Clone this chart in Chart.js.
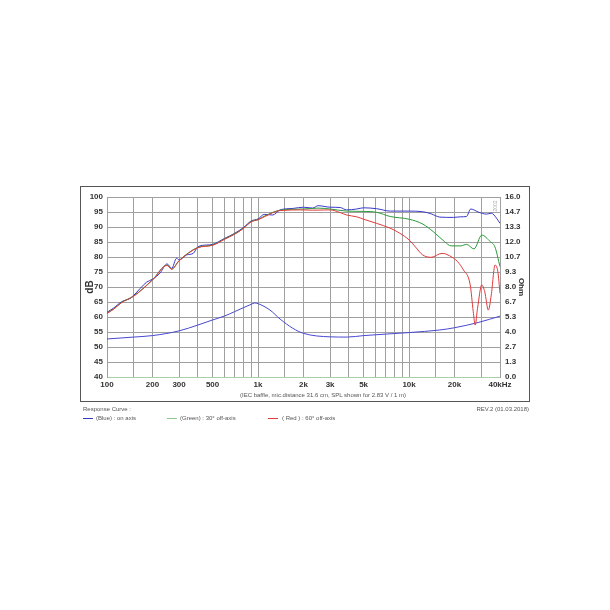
<!DOCTYPE html>
<html>
<head>
<meta charset="utf-8">
<script src="https://cdn.jsdelivr.net/npm/chart.js@4/dist/chart.umd.min.js"></script>
<style>
  body { margin: 0; background: #fff; font-family: "Liberation Sans", Arial, sans-serif; }
  #wrap { position: relative; width: 610px; height: 610px; }
  canvas { position: absolute; left: 0; top: 0; }
  .frame { position: absolute; left: 80px; top: 186px; width: 448px; height: 214px; border: 1px solid #555; }
  .txt { position: absolute; font-size: 6px; color: #555; white-space: nowrap; }
  .ln { position: absolute; height: 1px; width: 10px; }
</style>
</head>
<body>
<div id="wrap">
  <div class="frame"></div>
  <canvas id="fr" width="610" height="610"></canvas>
  <div class="txt" style="left:240px;top:392px;">(IEC baffle, mic.distance 31.6 cm, SPL shown for 2.83 V / 1 m)</div>
  <div class="txt" style="left:83px;top:406px;">Response Curve :</div>
  <div class="txt" style="right:81px;top:406px;">REV.2 (01.03.2018)</div>
  <div class="ln" style="left:83px;top:418px;background:#3838c8;"></div>
  <div class="txt" style="left:96px;top:415px;">(Blue) : on axis</div>
  <div class="ln" style="left:167px;top:418px;background:#8fc98f;"></div>
  <div class="txt" style="left:180px;top:415px;">(Green) : 30° off-axis</div>
  <div class="ln" style="left:268px;top:418px;background:#e03a3a;"></div>
  <div class="txt" style="left:282px;top:415px;">( Red ) : 60° off-axis</div>
</div>
<script>
// frequency grid and labels
const gridFreqs = [100,150,200,300,400,500,600,700,800,900,1000,1500,2000,3000,4000,5000,6000,7000,8000,9000,10000,15000,20000,30000,40000]
const freqLabels = {100:'100',200:'200',300:'300',500:'500',1000:'1k',2000:'2k',3000:'3k',5000:'5k',10000:'10k',20000:'20k',40000:'40kHz'}

// on axis (blue), dB
const blueFreq = [100,110,125,142,150,183,200,224,250,268,289,300,337,372,400,457,500,600,700,800,900,1000,1100,1250,1400,1710,2000,2300,2500,3000,3500,3860,4500,5000,6100,7500,10000,12300,14000,16000,19700,22000,24000,25600,29000,32600,35000,38000,40000]
const blueSpl  = [61.6,62.9,65.1,66.2,67.2,71.6,72.6,74.6,77.7,76.2,79.6,79.0,80.7,81.2,83.4,84.0,84.2,86.2,87.9,89.8,92.0,92.7,94.2,94.0,95.7,96.2,96.6,96.3,97.1,96.6,96.5,95.7,96.0,96.4,96.1,95.3,95.3,95.1,94.4,93.3,93.2,93.4,93.5,96.0,94.9,94.3,94.6,92.9,91.2]

// 30 deg off axis (green), dB
const greenFreq = [100,110,125,150,200,250,268,300,400,500,600,700,800,900,1000,1100,1400,2000,2500,3000,3860,5000,6100,7500,10000,12300,14500,17200,19000,22000,24000,26900,30300,34500,37000,40000]
const greenSpl  = [61.3,62.6,64.9,67.0,72.4,77.3,76.0,78.8,83.2,84.0,86.0,87.7,89.6,91.8,92.5,93.6,95.6,96.0,96.3,96.0,95.3,95.2,94.9,93.5,92.6,91.0,88.4,85.1,83.7,83.7,84.2,82.7,87.3,85.1,83.4,76.8]

// 60 deg off axis (red), dB
const redFreq = [100,110,125,150,200,250,268,300,400,500,600,700,800,900,1000,1100,1400,2000,2300,3000,3500,3860,4500,5000,6100,7500,8700,10000,11000,12300,14000,16500,17500,19700,21000,22900,25400,26600,27400,28400,30300,31700,33500,35000,37100,38700,40000]
const redSpl  = [61.2,62.5,64.8,66.9,72.3,77.2,75.9,78.7,83.1,83.9,85.9,87.6,89.5,91.7,92.4,93.4,95.5,95.7,95.6,95.7,94.8,94.0,93.4,92.6,91.2,89.6,87.9,85.7,83.4,80.7,79.9,81.2,81.0,79.6,78.4,75.7,70.7,61.8,57.3,62.9,70.7,68.4,62.3,67.3,77.3,75.1,67.9]

// impedance, Ohm
const impFreq = [100,150,200,300,400,500,600,700,800,900,950,1000,1200,1400,1700,2000,3000,3900,5000,10000,16000,20000,29000,40000]
const impOhm  = [3.38,3.55,3.68,4.10,4.62,5.07,5.42,5.81,6.16,6.46,6.58,6.52,5.95,5.15,4.33,3.88,3.57,3.55,3.68,3.95,4.18,4.38,4.86,5.41]

const ohmTicks = [0,1,2,3,4,5,6,7,8,9,10,11,12].map(i => i * 16 / 12)

function pts(fs, vs) {
    return fs.map((f, i) => ({x: f, y: vs[i]}))
}

const sideText = {
    id: 'sideText',
    afterDraw(chart) {
        const ctx = chart.ctx
        ctx.save()
        ctx.translate(496, 206)
        ctx.rotate(-Math.PI / 2)
        ctx.fillStyle = '#aaa'
        ctx.font = '5px "Liberation Sans", Arial'
        ctx.textAlign = 'center'
        ctx.textBaseline = 'middle'
        ctx.fillText('2002', 0, 0)
        ctx.restore()
    }
}

const lineDefaults = {pointRadius: 0, borderWidth: 1, fill: false, cubicInterpolationMode: 'monotone'}
const tickFont = {family: '"Liberation Sans", Arial', size: 8, weight: 'bold'}

var ctx = document.getElementById('fr').getContext('2d')
var chart = new Chart(ctx, {
    type: 'line',
    data: {
        datasets: [
            Object.assign({label: 'Red', data: pts(redFreq, redSpl), borderColor: '#e03a3a', yAxisID: 'y'}, lineDefaults),
            Object.assign({label: 'Green', data: pts(greenFreq, greenSpl), borderColor: '#2a9a38', yAxisID: 'y'}, lineDefaults),
            Object.assign({label: 'Blue', data: pts(blueFreq, blueSpl), borderColor: '#3838c8', yAxisID: 'y'}, lineDefaults),
            Object.assign({label: 'Impedance', data: pts(impFreq, impOhm), borderColor: '#4848d0', yAxisID: 'y2'}, lineDefaults)
        ]
    },
    options: {
        responsive: false,
        animation: false,
        layout: {padding: {left: 84, right: 84, top: 197, bottom: 219}},
        plugins: {legend: {display: false}, tooltip: {enabled: false}},
        scales: {
            x: {
                type: 'logarithmic',
                min: 100, max: 40000,
                afterBuildTicks: s => { s.ticks = gridFreqs.map(v => ({value: v})) },
                afterFit: s => { s.height = 14 },
                grid: {color: '#a0a0a0', drawTicks: false},
                border: {color: '#a8d0a8'},
                ticks: {
                    autoSkip: false, maxRotation: 0, padding: 3,
                    color: '#333', font: tickFont,
                    callback: v => freqLabels[v] || ''
                }
            },
            y: {
                position: 'left',
                min: 40, max: 100,
                afterFit: s => { s.width = 23 },
                grid: {color: '#a0a0a0', drawTicks: false},
                border: {color: '#a0a0a0'},
                ticks: {stepSize: 5, padding: 4, color: '#333', font: tickFont},
                title: {display: true, text: 'dB', color: '#333', padding: 0,
                        font: {family: '"Liberation Sans", Arial', size: 10, weight: 'bold'}}
            },
            y2: {
                position: 'right',
                min: 0, max: 16,
                afterBuildTicks: s => { s.ticks = ohmTicks.map(v => ({value: v})) },
                afterFit: s => { s.width = 26 },
                grid: {drawOnChartArea: false, drawTicks: false},
                border: {color: '#a0a0a0'},
                ticks: {padding: 5, color: '#333', font: tickFont, callback: v => v.toFixed(1)},
                title: {display: true, text: 'Ohm', color: '#333', padding: 0,
                        font: {family: '"Liberation Sans", Arial', size: 8, weight: 'bold'}}
            }
        }
    },
    plugins: [sideText]
})
</script>
</body>
</html>
